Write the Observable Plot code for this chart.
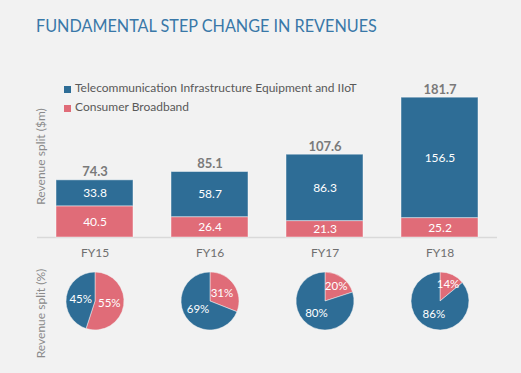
<!DOCTYPE html>
<html><head><meta charset="utf-8">
<script src="https://cdn.jsdelivr.net/npm/d3@7"></script>
<script src="https://cdn.jsdelivr.net/npm/@observablehq/plot@0.6"></script>
<style>
html,body{margin:0;padding:0;background:#f2f2f2;}
#wrap{position:relative;width:521px;height:373px;overflow:hidden;font-family:Lato,sans-serif;}
#title{position:absolute;left:36px;top:16.3px;font-size:18px;line-height:1;color:#3978a8;white-space:nowrap;transform:scaleX(0.9);transform-origin:0 0;}
.leg{position:absolute;left:64px;font-size:12px;line-height:1;color:#595959;white-space:nowrap;}
.leg span.sw{position:absolute;left:0;width:7px;height:7px;}
.leg span.tx{position:absolute;left:11px;top:0;}
#p1,#p2{position:absolute;left:0;}
#p1{top:0;} #p2{top:265px;}
</style>
</head><body>
<div id="wrap">
  <div id="title">FUNDAMENTAL STEP CHANGE IN REVENUES</div>
  <div id="p1"></div>
  <div id="p2"></div>
  <div id="legend"></div>
</div>
<script>
const years = ["FY15", "FY16", "FY17", "FY18"];
const telecom = [33.8, 58.7, 86.3, 156.5];
const consumer = [40.5, 26.4, 21.3, 25.2];
const totals = [74.3, 85.1, 107.6, 181.7];
const telecomPct = [45, 69, 80, 86];
const consumerPct = [55, 31, 20, 14];
const seriesNames = ["Telecommunication Infrastructure Equipment and IIoT", "Consumer Broadband"];
const colors = ["#2e6d96", "#e06c78"];
const yLabelBars = "Revenue split ($m)";
const yLabelPies = "Revenue split (%)";

// Legend
const legend = document.getElementById("legend");
seriesNames.forEach((name, i) => {
  const d = document.createElement("div");
  d.className = "leg";
  d.style.top = (i === 0 ? 81.7 : 101.1) + "px";
  d.innerHTML = `<span class="sw" style="top:${i===0?4.3:3.9}px;background:${colors[i]}"></span><span class="tx"></span>`;
  d.querySelector(".tx").textContent = name;
  legend.appendChild(d);
});

const rows = [];
years.forEach((y, i) => {
  rows.push({year: y, series: seriesNames[1], value: consumer[i]});
  rows.push({year: y, series: seriesNames[0], value: telecom[i]});
});
const totalRows = years.map((y, i) => ({year: y, total: totals[i]}));

const xOpts = {domain: years, paddingInner: 0.33, paddingOuter: 0.165};
const colorOpts = {domain: seriesNames, range: colors};
const stackOrder = [seriesNames[1], seriesNames[0]];

const p1 = Plot.plot({
  width: 521, height: 265,
  marginLeft: 37, marginRight: 24, marginTop: 60, marginBottom: 28,
  style: {fontFamily: "Lato, sans-serif", background: "transparent", overflow: "visible"},
  x: {...xOpts, label: null},
  y: {domain: [0, 230], axis: null},
  color: colorOpts,
  marks: [
    Plot.ruleY([0], {stroke: "#d9d9d9", strokeWidth: 1.5}),
    Plot.barY(rows, {x: "year", y: "value", fill: "series", order: stackOrder, stroke: "#ffffff", strokeOpacity: 0.45, strokeWidth: 1}),
    Plot.text(rows, Plot.stackY({x: "year", y: "value", z: "series", order: stackOrder, text: d => d.value.toFixed(1), fill: "white", fontSize: 12})),
    Plot.text(totalRows, {x: "year", y: "total", text: d => d.total.toFixed(1), dy: -8, fill: "#7a7a7a", fontSize: 13, fontWeight: "bold"}),
    Plot.axisX({tickSize: 0, tickPadding: 11, fontSize: 12, color: "#6f6f6f", label: null}),
    Plot.text([yLabelBars], {frameAnchor: "left", textAnchor: "middle", lineAnchor: "middle", rotate: -90, dx: 3.5, dy: 7.5, fill: "#8a8a8a", fontSize: 12})
  ]
});
document.getElementById("p1").appendChild(p1);

const pieRows = years.map((y, i) => ({year: y, pcts: [consumerPct[i], telecomPct[i]]}));
const R = 29;

const pieMark = Plot.dot(pieRows, {
  x: "year",
  render(index, scales, values, dimensions) {
    const g = d3.create("svg:g");
    const bw = typeof scales.x.bandwidth === "function" ? scales.x.bandwidth() : 0;
    const cy = (dimensions.marginTop + dimensions.height - dimensions.marginBottom) / 2;
    const pie = d3.pie().sort(null).value(d => d);
    for (const i of index) {
      const cx = values.x[i] + bw / 2;
      const arcs = pie(pieRows[i].pcts);
      const gg = g.append("g").attr("transform", `translate(${cx},${cy})`);
      arcs.forEach((a, k) => {
        gg.append("path")
          .attr("d", d3.arc().innerRadius(0).outerRadius(R)(a))
          .attr("fill", colors[k === 0 ? 1 : 0])
          .attr("stroke", "#f2f2f2").attr("stroke-width", 0.5);
      });
      arcs.forEach((a, k) => {
        const frac = a.data / 100;
        const lr = R * (frac < 0.25 ? 0.65 : 0.5);
        const [lx, ly] = d3.arc().innerRadius(lr).outerRadius(lr).centroid(a);
        gg.append("text")
          .attr("x", lx).attr("y", ly)
          .attr("text-anchor", "middle").attr("dy", "0.35em")
          .attr("fill", "white").attr("font-size", 11.5)
          .text(a.data + "%");
      });
    }
    return g.node();
  }
});

const p2 = Plot.plot({
  width: 521, height: 108,
  marginLeft: 37, marginRight: 24, marginTop: 0, marginBottom: 36,
  style: {fontFamily: "Lato, sans-serif", background: "transparent", overflow: "visible"},
  x: {...xOpts, axis: null},
  marks: [
    pieMark,
    Plot.text([yLabelPies], {frameAnchor: "left", textAnchor: "middle", lineAnchor: "middle", rotate: -90, dx: 3.5, dy: 12, fill: "#8a8a8a", fontSize: 12})
  ]
});
document.getElementById("p2").appendChild(p2);
</script>
</body></html>
